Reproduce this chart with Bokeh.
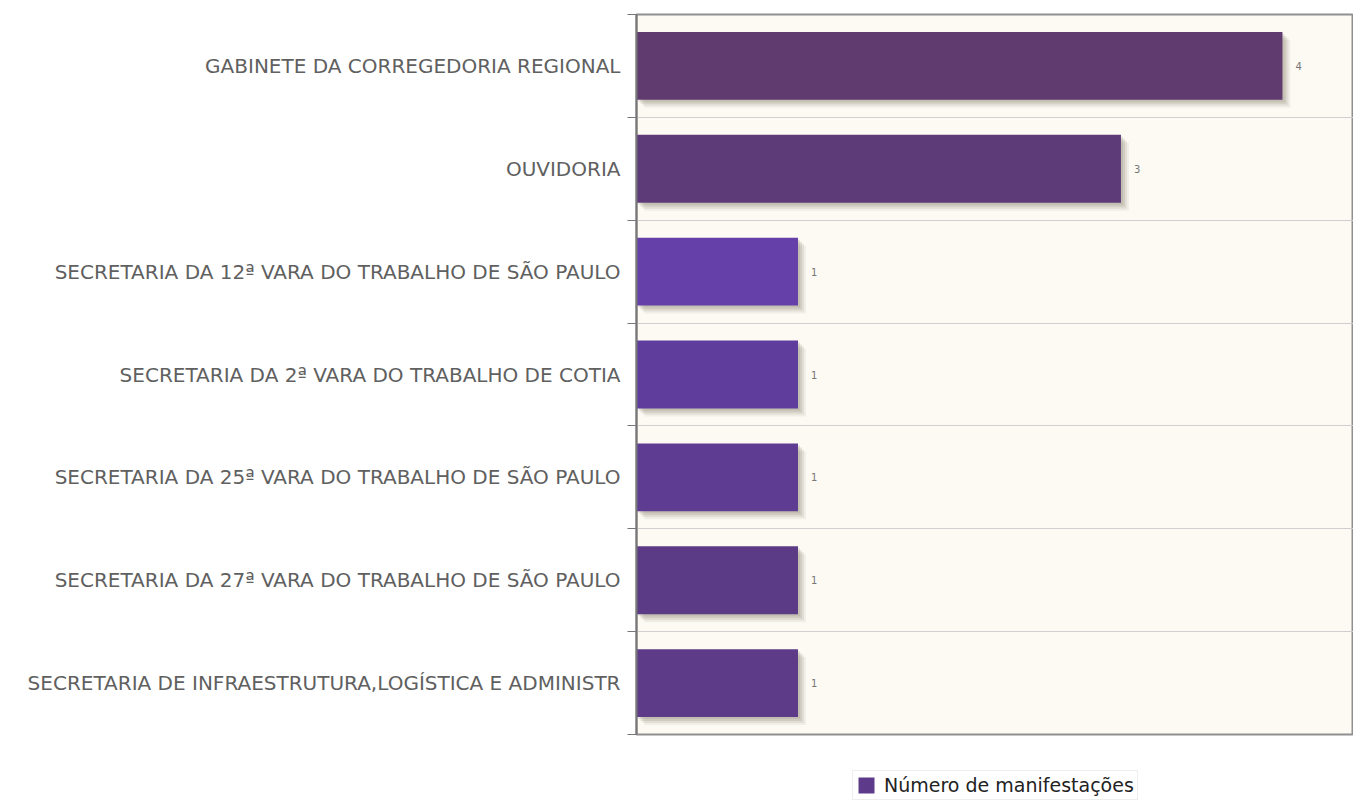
from bokeh.plotting import figure
from bokeh.layouts import column
from bokeh.models import Range1d, FixedTicker, Legend, LegendItem, ColumnDataSource
from bokeh.core.properties import value
from bokeh.embed import file_html
from bokeh.resources import INLINE

categories = [
    "GABINETE DA CORREGEDORIA REGIONAL",
    "OUVIDORIA",
    "SECRETARIA DA 12ª VARA DO TRABALHO DE SÃO PAULO",
    "SECRETARIA DA 2ª VARA DO TRABALHO DE COTIA",
    "SECRETARIA DA 25ª VARA DO TRABALHO DE SÃO PAULO",
    "SECRETARIA DA 27ª VARA DO TRABALHO DE SÃO PAULO",
    "SECRETARIA DE INFRAESTRUTURA,LOGÍSTICA E ADMINISTR",
]
counts = [4, 3, 1, 1, 1, 1, 1]
bar_colors = ["#5f3b6f", "#5d3b79", "#6440a8", "#5e3d9c", "#5e3c92", "#5c3b86", "#5d3b88"]
series_name = "Número de manifestações"
legend_color = "#5d3b8a"

n = len(categories)
pos = list(range(n))
X_MAX = 4.44

W = 1353
H_MAIN = 736
H_LEG = 64
FRAME_L, FRAME_T, FRAME_B = 636, 14, 2
frame_w = W - FRAME_L
frame_h = H_MAIN - FRAME_T - FRAME_B
px_x = X_MAX / frame_w
px_y = n / frame_h

p = figure(width=W, height=H_MAIN, output_backend="svg", toolbar_location=None,
           x_range=Range1d(0, X_MAX), y_range=Range1d(n - 0.5, -0.5),
           min_border_left=FRAME_L, min_border_top=FRAME_T,
           min_border_right=0, min_border_bottom=FRAME_B)
p.background_fill_color = "#fdfaf4"
p.border_fill_color = "white"
p.outline_line_color = "#8f8f8f"
p.outline_line_width = 2

src = ColumnDataSource(dict(y=pos, v=counts, c=bar_colors, lab=[str(c) for c in counts]))

# soft shadow layers
for k, a in [(8, 0.10), (6, 0.15), (4, 0.20), (2, 0.20)]:
    sh = ColumnDataSource(dict(y=[y + k * px_y for y in pos],
                               l=[k * px_x for _ in pos],
                               r=[c + k * px_x for c in counts]))
    p.hbar(y="y", left="l", right="r", height=0.66, source=sh,
           fill_color="#8c8674", fill_alpha=a, line_color=None)

bars = p.hbar(y="y", left=0, right="v", height=0.66, source=src,
              fill_color="c", line_color=None)

p.text(x="v", y="y", text="lab", source=src, x_offset=13,
       text_font=value("DejaVu Sans"), text_font_size="10px",
       text_color="#777777", text_baseline="middle", text_align="left")

boundaries = [i - 0.5 for i in range(n + 1)]
p.yaxis.ticker = FixedTicker(ticks=pos, minor_ticks=boundaries)
p.yaxis.major_label_overrides = {i: categories[i] for i in pos}
p.yaxis.major_tick_line_color = None
p.yaxis.minor_tick_in = 0
p.yaxis.minor_tick_out = 9
p.yaxis.minor_tick_line_color = "#777777"
p.yaxis.minor_tick_line_width = 1
p.yaxis.axis_line_color = "#777777"
p.yaxis.axis_line_width = 2
p.yaxis.major_label_text_font = "DejaVu Sans"
p.yaxis.major_label_text_font_size = "20px"
p.yaxis.major_label_text_color = "#606060"
p.yaxis.major_label_standoff = 7
p.xaxis.visible = False

p.xgrid.grid_line_color = None
p.ygrid.ticker = FixedTicker(ticks=boundaries[1:-1])
p.ygrid.grid_line_color = "#cfcfcf"
p.ygrid.grid_line_width = 1

# legend strip below the chart (frame aligned with the main chart's frame)
p2 = figure(width=W, height=H_LEG, output_backend="svg", toolbar_location=None,
            x_range=Range1d(0, 1), y_range=Range1d(0, 1),
            min_border_left=FRAME_L, min_border_right=0, min_border_top=0, min_border_bottom=0)
p2.axis.visible = False
p2.grid.grid_line_color = None
p2.outline_line_color = None
p2.background_fill_color = "white"
p2.border_fill_color = "white"
# zero-size bar: only provides the legend swatch style
dummy = p2.hbar(y=[0.5], left=[0.5], right=[0.5], height=0,
                fill_color=legend_color, line_color=None)

legend = Legend(items=[LegendItem(label=series_name, renderers=[dummy])],
                location=(216, 0), orientation="horizontal",
                glyph_width=20, glyph_height=20, label_standoff=8,
                label_text_font="DejaVu Sans", label_text_font_size="19px",
                label_text_color="#222222", padding=3, margin=0,
                border_line_color="#dddddd", background_fill_color="white",
                background_fill_alpha=1.0)
p2.add_layout(legend, "center")

open("out.html", "w").write(file_html(column(p, p2, spacing=0), INLINE))
